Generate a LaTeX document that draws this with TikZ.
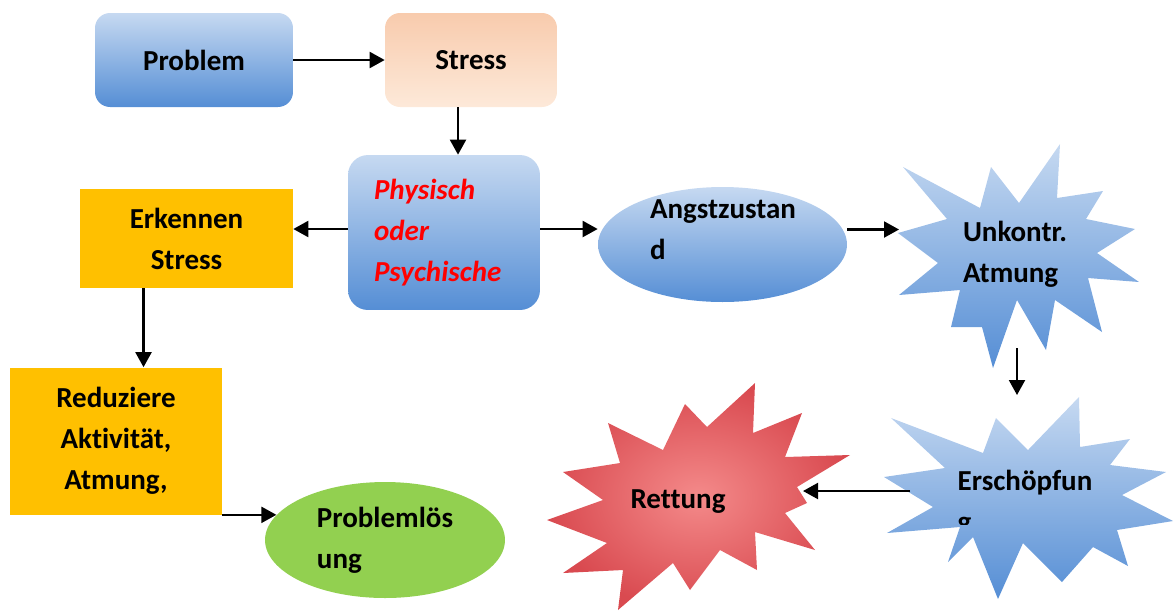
\documentclass[tikz,border=0pt]{standalone}
\usepackage{fontspec}
\setmainfont{Carlito}[Ligatures=NoCommon]
\usetikzlibrary{shapes.geometric, arrows.meta, positioning}

\definecolor{blueTop}{HTML}{C6D9F1}
\definecolor{blueBottom}{HTML}{558ED5}
\definecolor{peachTop}{HTML}{F8CBAD}
\definecolor{peachBottom}{HTML}{FDE9D9}
\definecolor{boxOrange}{HTML}{FFC000}
\definecolor{boxGreen}{HTML}{92D050}
\definecolor{redInner}{HTML}{F48A8A}
\definecolor{redOuter}{HTML}{D94A50}

\tikzset{
    txt/.style={font=\fontsize{16.5}{23.3}\selectfont\bfseries, align=center, inner sep=0pt},
    bluebox/.style={txt, rectangle, rounded corners=0.3cm, top color=blueTop, bottom color=blueBottom},
    orangebox/.style={txt, rectangle, fill=boxOrange},
    blueshape/.style={top color=blueTop, bottom color=blueBottom},
    conn/.style={-{Triangle[length=0.3cm, width=0.32cm]}, line width=1.2pt},
}

\begin{document}
\begin{tikzpicture}[x=0.02cm, y=-0.02cm]
    \useasboundingbox (0,0) rectangle (1176,610);

    % top row
    \node[bluebox, minimum width=3.96cm, minimum height=1.88cm] (problem) at (194,60) {Problem};
    \node[txt, rectangle, rounded corners=0.3cm, top color=peachTop, bottom color=peachBottom,
        minimum width=3.44cm, minimum height=1.88cm] (stress) at (471,60) {Stress};

    % middle row
    \node[bluebox, rounded corners=0.4cm, minimum width=3.84cm, minimum height=3.1cm,
        align=left, text width=2.8cm, text=red, font=\fontsize{16.5}{23.3}\selectfont\bfseries\itshape]
        (physisch) at (444,232.5) {Physisch\\oder\\Psychische};
    \node[orangebox, minimum width=4.26cm, minimum height=1.98cm] (erkennen) at (186.5,238.5) {Erkennen\\Stress};
    \node[ellipse, blueshape, minimum width=4.98cm, minimum height=2.3cm] (angst) at (722.5,244.5) {};
    \node[txt, align=left] (angsttxt) at (723,229.5) {Angstzustan\\d};

    % lower left
    \node[orangebox, minimum width=4.24cm, minimum height=2.94cm] (reduziere) at (116,441) {Reduziere\\Aktivität,\\Atmung,};
    \node[txt, align=left, ellipse, fill=boxGreen, minimum width=4.8cm, minimum height=2.32cm]
        (loesung) at (385,540) {Problemlös\\ung};

    % Unkontr. Atmung (star)
    \shade[blueshape] (1060,144) -- (1057,198) -- (1103,191) -- (1086,219) -- (1135,229)
        -- (1097,253) -- (1139,282) -- (1088,278) -- (1102,332) -- (1055,300) -- (1046,350)
        -- (1017,300) -- (993,368) -- (982,327) -- (951,327) -- (960,290) -- (899,295)
        -- (938,263) -- (898,233) -- (947,219) -- (903,167) -- (980,208) -- (991,167)
        -- (1019,203) -- cycle;
    \node[txt, align=left] (unkontr) at (1015,254) {Unkontr.\\Atmung};
    \coordinate (unk-w) at (899,229);
    \coordinate (unk-s) at (1017,348);

    % Erschoepfung (star)
    \shade[blueshape] (1079,397) -- (1080,447) -- (1130,439) -- (1110,465) -- (1166,472)
        -- (1122,495) -- (1173,521) -- (1117,530) -- (1128,566) -- (1093,547) -- (1062,582)
        -- (1023,543) -- (998,599) -- (973,537) -- (948,562) -- (960,527) -- (887,533)
        -- (933,507) -- (884,477) -- (945,468) -- (891,418) -- (983,453) -- (996,418)
        -- (1028,450) -- cycle;
    \begin{scope}
        \clip (900,380) rectangle (1150,524);
        \node[txt, align=left] (ersch) at (1025,503) {Erschöpfun\\g};
    \end{scope}
    \coordinate (ersch-n) at (1017,395);
    \coordinate (ersch-w) at (910,491);

    % Rettung (explosion)
    \shade[inner color=redInner, outer color=redOuter] (608,423) -- (663,450) -- (685,404)
        -- (707,427) -- (755,383) -- (753,433) -- (802,413) -- (785,457) -- (850,455)
        -- (797,487) -- (807,503) -- (785,513) -- (815,550) -- (755,532) -- (757,570)
        -- (720,550) -- (690,590) -- (673,563) -- (618,610) -- (623,570) -- (563,573)
        -- (607,543) -- (547,520) -- (603,500) -- (563,472) -- (620,463) -- cycle;
    \node[txt] (rettung) at (678,502) {Rettung};
    \coordinate (rett-e) at (803,491);

    % connectors
    \draw[conn] (problem) -- (stress);
    \draw[conn] ([xshift=-0.26cm]stress.south) -- ([xshift=-0.26cm]stress.south |- physisch.north);
    \draw[conn] ([yshift=0.07cm]physisch.west) -- ([yshift=0.07cm]physisch.west -| erkennen.east);
    \draw[conn] ([xshift=-0.86cm]erkennen.south) -- ([xshift=-0.86cm]erkennen.south |- reduziere.north);
    \draw[conn] (reduziere.south east) -- (reduziere.south east -| loesung.167);
    \draw[conn] ([yshift=0.07cm]physisch.east) -- ([yshift=0.07cm]physisch.east -| angst.west);
    \draw[conn] ([yshift=0.3cm]angst.east) -- ([yshift=0.3cm]angst.east -| unk-w);
    \draw[conn] (unk-s) -- (ersch-n);
    \draw[conn] (ersch-w) -- (rett-e);
\end{tikzpicture}
\end{document}
